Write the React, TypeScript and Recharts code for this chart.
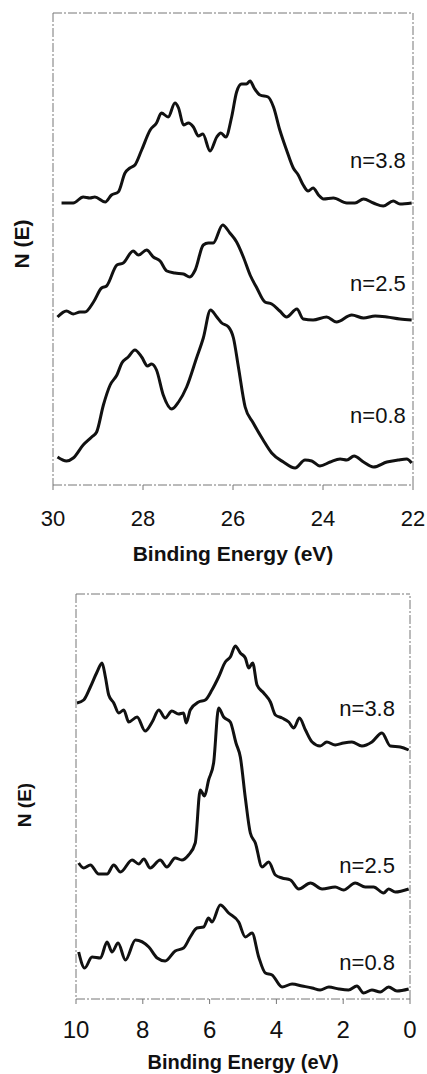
import React from "react";
import { LineChart, Line, XAxis, YAxis, ReferenceLine, ReferenceDot } from "recharts";

// upper panel, binding energy 22–30 eV
const TOP_E_38 = [29.81, 29.55, 29.33, 29.18, 29.07, 28.84, 28.7, 28.55, 28.4, 28.29, 28.18, 28.03, 27.84, 27.7, 27.59, 27.44, 27.29, 27.21, 27.1, 26.99, 26.88, 26.77, 26.67, 26.51, 26.36, 26.27, 26.16, 26.03, 25.92, 25.81, 25.7, 25.62, 25.53, 25.4, 25.22, 25.1, 24.96, 24.81, 24.66, 24.55, 24.44, 24.33, 24.22, 24.1, 23.99, 23.77, 23.47, 23.29, 23.1, 22.88, 22.66, 22.44, 22.29, 22.03];
const TOP_I_38 = [282, 282, 288, 287, 288, 283, 290, 293, 312, 317, 320, 335, 355, 362, 372, 368, 382, 377, 360, 362, 358, 349, 351, 334, 348, 352, 348, 368, 393, 401, 401, 404, 397, 390, 388, 378, 355, 335, 317, 310, 300, 294, 297, 290, 286, 287, 282, 282, 286, 282, 279, 284, 281, 282];

const TOP_E_25 = [29.9, 29.7, 29.55, 29.4, 29.29, 29.1, 28.92, 28.81, 28.58, 28.44, 28.22, 28.1, 27.92, 27.77, 27.62, 27.47, 27.29, 27.1, 26.96, 26.84, 26.66, 26.55, 26.44, 26.23, 26.07, 25.92, 25.77, 25.62, 25.47, 25.29, 25.14, 24.96, 24.81, 24.58, 24.44, 24.22, 23.92, 23.7, 23.36, 23.1, 22.84, 22.58, 22.29, 22.03];
const TOP_I_25 = [168, 174, 171, 173, 173, 183, 197, 199, 220, 222, 234, 230, 235, 228, 224, 214, 212, 211, 208, 215, 240, 242, 242, 260, 252, 243, 228, 210, 197, 183, 181, 174, 168, 176, 166, 165, 168, 163, 170, 167, 169, 168, 166, 165];

const TOP_E_08 = [29.9, 29.7, 29.55, 29.33, 29.14, 29.03, 28.88, 28.73, 28.58, 28.47, 28.33, 28.18, 28.03, 27.9, 27.81, 27.7, 27.55, 27.36, 27.21, 27.03, 26.81, 26.66, 26.5, 26.36, 26.25, 26.1, 25.99, 25.88, 25.73, 25.55, 25.33, 25.14, 24.88, 24.62, 24.4, 24.25, 24.07, 23.84, 23.62, 23.47, 23.31, 23.1, 22.88, 22.58, 22.33, 22.14, 22.03];
const TOP_I_08 = [28, 24, 27, 40, 48, 53, 80, 100, 110, 122, 128, 135, 128, 119, 121, 115, 90, 76, 83, 98, 127, 147, 175, 168, 162, 158, 147, 118, 78, 62, 45, 32, 23, 17, 25, 24, 19, 23, 26, 25, 29, 23, 18, 23, 25, 26, 22];

// lower panel, binding energy 0–10 eV
const BOT_E_38 = [9.97, 9.77, 9.57, 9.37, 9.22, 9.12, 9.02, 8.87, 8.72, 8.57, 8.42, 8.17, 7.93, 7.72, 7.52, 7.33, 7.13, 6.93, 6.78, 6.7, 6.58, 6.33, 6.13, 5.93, 5.73, 5.53, 5.38, 5.23, 5.08, 4.93, 4.83, 4.71, 4.58, 4.38, 4.18, 4.03, 3.83, 3.63, 3.48, 3.31, 3.13, 2.93, 2.69, 2.49, 2.24, 1.99, 1.74, 1.44, 1.14, 0.84, 0.59, 0.29, 0.04];
const BOT_I_38 = [296, 299, 312, 327, 336, 322, 304, 296, 286, 289, 277, 282, 268, 277, 289, 281, 288, 285, 286, 276, 289, 297, 299, 309, 322, 337, 342, 353, 346, 341, 331, 336, 314, 306, 297, 284, 281, 277, 271, 281, 269, 257, 253, 257, 254, 256, 257, 253, 257, 266, 253, 252, 249];

const BOT_E_25 = [9.92, 9.77, 9.57, 9.32, 9.07, 8.87, 8.67, 8.32, 8.12, 7.97, 7.78, 7.48, 7.28, 7.03, 6.83, 6.63, 6.43, 6.28, 6.15, 6.03, 5.88, 5.73, 5.58, 5.38, 5.21, 5.08, 4.93, 4.78, 4.63, 4.43, 4.23, 4.03, 3.83, 3.58, 3.33, 2.98, 2.63, 2.24, 1.99, 1.64, 1.34, 1.09, 0.79, 0.64, 0.44, 0.04];
const BOT_I_25 = [136, 131, 134, 125, 125, 134, 127, 139, 135, 140, 131, 139, 132, 141, 139, 144, 156, 209, 203, 219, 236, 291, 282, 277, 256, 242, 201, 166, 156, 132, 137, 124, 121, 119, 110, 116, 110, 112, 109, 116, 112, 112, 106, 110, 107, 110];

const BOT_E_08 = [9.92, 9.74, 9.52, 9.27, 9.07, 8.92, 8.74, 8.52, 8.22, 7.82, 7.57, 7.33, 7.03, 6.78, 6.58, 6.38, 6.18, 6.03, 5.93, 5.68, 5.43, 5.13, 4.93, 4.73, 4.53, 4.33, 4.13, 3.83, 3.53, 3.23, 2.93, 2.69, 2.43, 2.13, 1.84, 1.59, 1.39, 1.14, 0.89, 0.64, 0.39, 0.04];
const BOT_I_08 = [47, 31, 42, 41, 57, 47, 56, 39, 59, 52, 41, 38, 48, 51, 62, 71, 72, 81, 77, 94, 86, 77, 62, 66, 42, 26, 24, 12, 15, 13, 11, 9, 12, 10, 9, 13, 6, 9, 7, 12, 8, 10];

const TOP_TICKS = [30, 28, 26, 24, 22];
const BOT_TICKS = [10, 8, 6, 4, 2, 0];

const zip = (e: number[], v: number[]) => e.map((x, i) => ({ e: x, v: v[i] }));

const FONT = "'Liberation Sans', Arial, sans-serif";
const INK = "#111";
const FRAME = "#777";
const DASH = "9 2 2 2";

const yLabel = (top: number, left: number, size: number): React.CSSProperties => ({
  position: "absolute",
  top,
  left,
  width: 0,
  height: 0,
  fontFamily: FONT,
  fontWeight: "bold",
  fontSize: size,
  color: INK,
});

function Trace({ data, name }: { data: { e: number; v: number }[]; name: string }) {
  return (
    <Line
      data={data}
      name={name}
      dataKey="v"
      type="monotone"
      stroke={INK}
      strokeWidth={3}
      strokeLinejoin="round"
      dot={false}
      isAnimationActive={false}
    />
  );
}

export default function App() {
  const tagStyle = { fontSize: 22, fill: INK, fontFamily: FONT };
  return (
    <div style={{ position: "absolute", left: 0, top: 0, width: 427, height: 1074, background: "#fff" }}>
      {/* upper panel */}
      <div style={{ position: "absolute", left: 0, top: 0 }}>
        <LineChart width={427} height={575} margin={{ top: 13, right: 14, bottom: 0, left: 0 }}>
          <XAxis
            dataKey="e"
            type="number"
            domain={[22, 30]}
            reversed
            ticks={TOP_TICKS}
            allowDuplicatedCategory={false}
            height={90}
            tickSize={5}
            tickMargin={20}
            axisLine={{ stroke: FRAME, strokeDasharray: DASH }}
            tickLine={{ stroke: FRAME }}
            tick={{ fontSize: 22, fill: INK, fontFamily: FONT }}
            label={{
              value: "Binding Energy (eV)",
              position: "insideBottom",
              offset: 14,
              style: { fontSize: 21, fontWeight: "bold", fill: INK, fontFamily: FONT },
            }}
          />
          <YAxis
            type="number"
            domain={[0, 472]}
            width={53}
            tick={false}
            tickLine={false}
            axisLine={{ stroke: FRAME, strokeDasharray: DASH }}
          />
          <ReferenceLine y={472} stroke={FRAME} strokeDasharray={DASH} />
          <ReferenceLine x={22} stroke={FRAME} strokeDasharray={DASH} />
          <Trace data={zip(TOP_E_38, TOP_I_38)} name="n=3.8" />
          <Trace data={zip(TOP_E_25, TOP_I_25)} name="n=2.5" />
          <Trace data={zip(TOP_E_08, TOP_I_08)} name="n=0.8" />
          <ReferenceDot x={22.05} y={325} r={0} fill="none" stroke="none" label={{ value: "n=3.8", position: "left", style: tagStyle }} />
          <ReferenceDot x={22.05} y={202} r={0} fill="none" stroke="none" label={{ value: "n=2.5", position: "left", style: tagStyle }} />
          <ReferenceDot x={22.05} y={70} r={0} fill="none" stroke="none" label={{ value: "n=0.8", position: "left", style: tagStyle }} />
        </LineChart>
      </div>
      <div style={yLabel(244, 22, 21)}>
        <div style={{ transform: "translate(-50%, -50%) rotate(-90deg)", whiteSpace: "nowrap", display: "inline-block" }}>N (E)</div>
      </div>

      {/* lower panel */}
      <div style={{ position: "absolute", left: 0, top: 581 }}>
        <LineChart width={427} height={493} margin={{ top: 13, right: 17, bottom: 0, left: 0 }}>
          <XAxis
            dataKey="e"
            type="number"
            domain={[0, 10]}
            reversed
            ticks={BOT_TICKS}
            allowDuplicatedCategory={false}
            height={75}
            tickSize={5}
            tickMargin={17}
            axisLine={{ stroke: FRAME, strokeDasharray: DASH }}
            tickLine={{ stroke: FRAME }}
            tick={{ fontSize: 24, fill: INK, fontFamily: FONT }}
            label={{
              value: "Binding Energy (eV)",
              position: "insideBottom",
              offset: 5,
              style: { fontSize: 20, fontWeight: "bold", fill: INK, fontFamily: FONT },
            }}
          />
          <YAxis
            type="number"
            domain={[0, 405]}
            width={76}
            tick={false}
            tickLine={false}
            axisLine={{ stroke: FRAME, strokeDasharray: DASH }}
          />
          <ReferenceLine y={405} stroke={FRAME} strokeDasharray={DASH} />
          <ReferenceLine x={0} stroke={FRAME} strokeDasharray={DASH} />
          <Trace data={zip(BOT_E_38, BOT_I_38)} name="n=3.8" />
          <Trace data={zip(BOT_E_25, BOT_I_25)} name="n=2.5" />
          <Trace data={zip(BOT_E_08, BOT_I_08)} name="n=0.8" />
          <ReferenceDot x={0.3} y={291} r={0} fill="none" stroke="none" label={{ value: "n=3.8", position: "left", style: tagStyle }} />
          <ReferenceDot x={0.3} y={134} r={0} fill="none" stroke="none" label={{ value: "n=2.5", position: "left", style: tagStyle }} />
          <ReferenceDot x={0.3} y={37} r={0} fill="none" stroke="none" label={{ value: "n=0.8", position: "left", style: tagStyle }} />
        </LineChart>
      </div>
      <div style={yLabel(805, 25, 19)}>
        <div style={{ transform: "translate(-50%, -50%) rotate(-90deg)", whiteSpace: "nowrap", display: "inline-block" }}>N (E)</div>
      </div>
    </div>
  );
}
